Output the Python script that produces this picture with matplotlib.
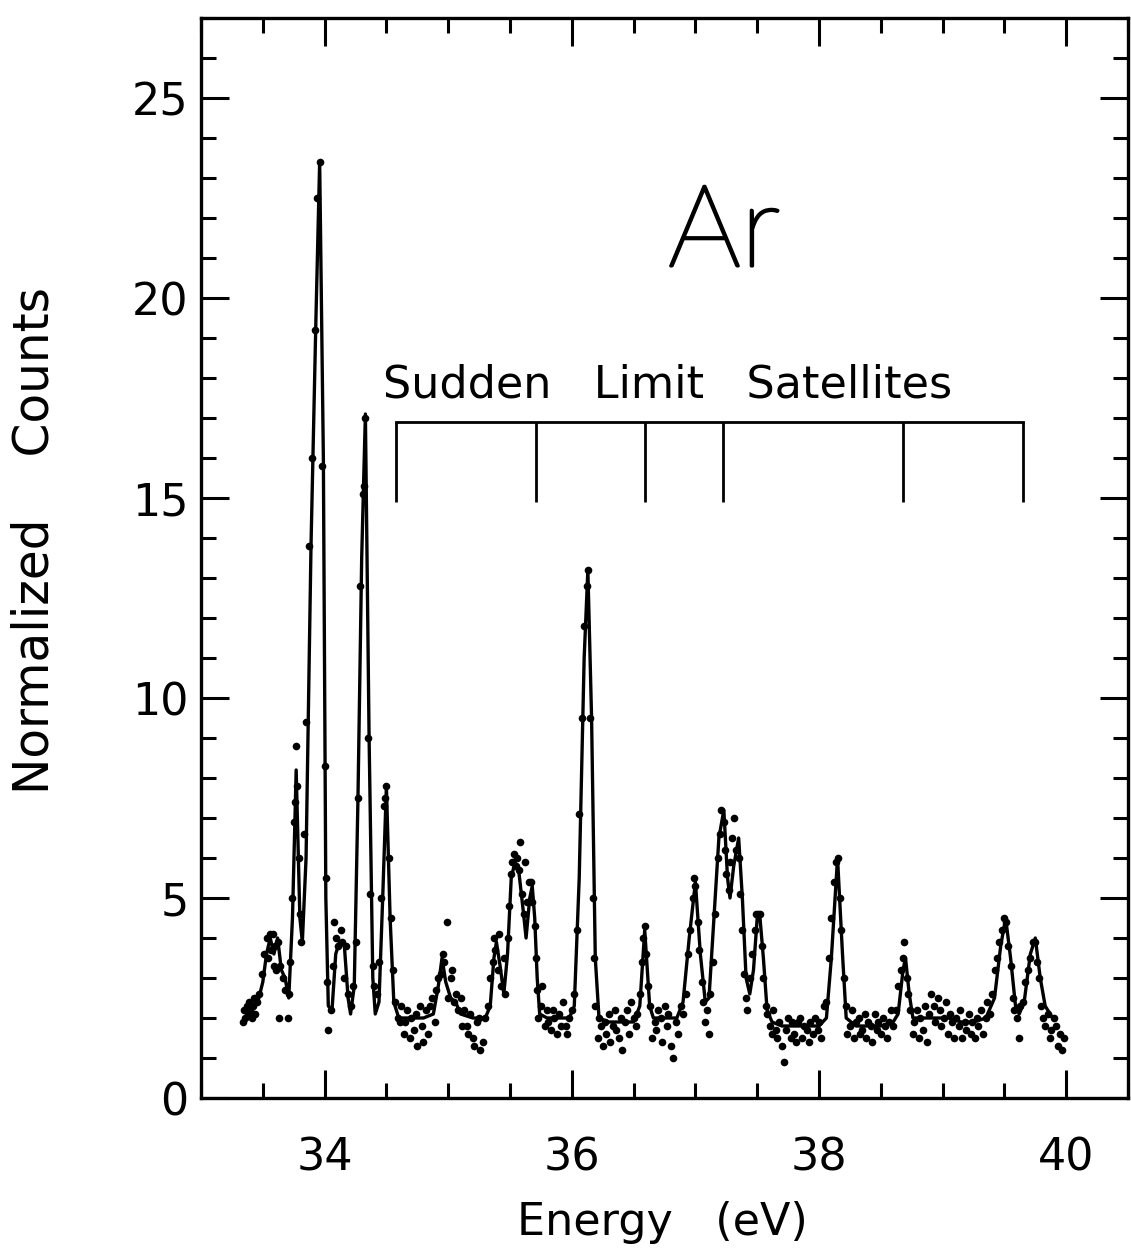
"""Ar photoelectron spectrum: normalized counts vs energy with sudden-limit satellite marks."""

import matplotlib

matplotlib.use("Agg")
import matplotlib.pyplot as plt  # noqa: E402
from matplotlib import patheffects  # noqa: E402
from matplotlib.ticker import MultipleLocator  # noqa: E402

# fitted curve (eV, counts)
fit_energy = [
    33.34, 33.40, 33.46, 33.50, 33.53, 33.56, 33.59, 33.62, 33.65, 33.68,
    33.71, 33.74, 33.77, 33.80, 33.82, 33.85, 33.89, 33.93, 33.96, 33.99,
    34.01, 34.03, 34.06, 34.09, 34.12, 34.16, 34.19, 34.21, 34.24, 34.27,
    34.30, 34.33, 34.36, 34.39, 34.41, 34.44, 34.47, 34.50, 34.53, 34.56,
    34.60, 34.70, 34.80, 34.88, 34.92, 34.95, 34.98, 35.02, 35.06, 35.10,
    35.20, 35.30, 35.34, 35.37, 35.39, 35.42, 35.45, 35.48, 35.51, 35.54,
    35.57, 35.61, 35.63, 35.66, 35.68, 35.70, 35.72, 35.74, 35.80, 35.90,
    35.98, 36.02, 36.06, 36.10, 36.13, 36.16, 36.19, 36.22, 36.30, 36.40,
    36.50, 36.55, 36.59, 36.63, 36.66, 36.75, 36.85, 36.90, 36.95, 37.00,
    37.04, 37.08, 37.11, 37.15, 37.19, 37.23, 37.26, 37.28, 37.31, 37.35,
    37.38, 37.41, 37.44, 37.47, 37.50, 37.52, 37.55, 37.58, 37.62, 37.70,
    37.80, 37.90, 38.00, 38.06, 38.10, 38.15, 38.19, 38.22, 38.30, 38.40,
    38.50, 38.60, 38.64, 38.68, 38.70, 38.73, 38.76, 38.85, 38.95, 39.05,
    39.15, 39.25, 39.35, 39.42, 39.47, 39.51, 39.55, 39.59, 39.62, 39.66,
    39.71, 39.75, 39.79, 39.83, 39.89,
]
fit_counts = [
    2.2, 2.3, 2.4, 2.9, 3.6, 4.0, 3.6, 4.0, 3.2, 3.0,
    2.5, 4.5, 8.2, 4.5, 3.9, 6.0, 13.8, 19.5, 23.4, 16.0,
    5.0, 2.3, 2.2, 3.6, 3.9, 3.8, 2.5, 2.1, 2.8, 7.5,
    13.5, 17.1, 9.0, 3.0, 2.1, 2.4, 5.0, 7.8, 4.5, 2.4,
    2.0, 2.0, 2.0, 2.1, 2.8, 3.5, 2.9, 2.5, 2.4, 2.1,
    2.0, 2.0, 2.3, 3.5, 3.9, 3.3, 2.6, 3.6, 5.5, 5.9,
    5.7, 4.6, 4.0, 5.0, 5.3, 4.5, 3.0, 2.1, 2.0, 2.0,
    2.0, 2.3, 5.5, 11.0, 13.2, 9.5, 3.5, 2.0, 1.9, 1.9,
    1.9, 2.3, 4.2, 2.3, 2.0, 2.0, 2.0, 2.4, 4.0, 5.4,
    3.6, 2.4, 2.5, 4.5, 6.5, 7.2, 5.5, 5.0, 5.8, 6.5,
    5.0, 3.0, 2.6, 3.2, 4.5, 4.6, 3.5, 2.2, 1.9, 1.8,
    1.8, 1.8, 1.8, 2.0, 3.5, 6.0, 3.6, 2.0, 1.8, 1.8,
    1.8, 1.9, 2.1, 3.2, 3.5, 2.6, 2.0, 2.0, 2.0, 2.0,
    1.9, 1.9, 2.0, 2.5, 3.8, 4.5, 3.5, 2.3, 2.1, 2.4,
    3.6, 4.0, 3.0, 2.3, 2.0,
]

# measured points
data_energy = [
    33.34, 33.35, 33.36, 33.37, 33.38, 33.39, 33.40, 33.41, 33.42, 33.43,
    33.44, 33.45, 33.47, 33.49, 33.51, 33.53, 33.54, 33.56, 33.57, 33.58,
    33.59, 33.60, 33.61, 33.62, 33.63, 33.64, 33.66, 33.68, 33.70, 33.71,
    33.72, 33.74, 33.75, 33.76, 33.77, 33.78, 33.79, 33.80, 33.81, 33.83,
    33.85, 33.87, 33.90, 33.92, 33.94, 33.96, 33.98, 34.00, 34.01, 34.02,
    34.03, 34.05, 34.07, 34.08, 34.09, 34.11, 34.13, 34.14, 34.16, 34.17,
    34.19, 34.21, 34.23, 34.25, 34.27, 34.29, 34.31, 34.32, 34.33, 34.35,
    34.37, 34.39, 34.40, 34.42, 34.44, 34.46, 34.48, 34.49, 34.50, 34.52,
    34.54, 34.55, 34.57, 34.59, 34.61, 34.62, 34.64, 34.65, 34.67, 34.69,
    34.70, 34.72, 34.74, 34.75, 34.77, 34.79, 34.80, 34.82, 34.84, 34.85,
    34.87, 34.89, 34.90, 34.92, 34.94, 34.96, 34.97, 34.99, 35.00, 35.02,
    35.03, 35.05, 35.06, 35.08, 35.10, 35.11, 35.13, 35.15, 35.16, 35.18,
    35.20, 35.21, 35.23, 35.25, 35.26, 35.28, 35.30, 35.32, 35.34, 35.36,
    35.37, 35.38, 35.40, 35.41, 35.43, 35.45, 35.46, 35.48, 35.49, 35.51,
    35.52, 35.53, 35.55, 35.56, 35.57, 35.58, 35.60, 35.61, 35.62, 35.64,
    35.65, 35.67, 35.68, 35.70, 35.71, 35.72, 35.73, 35.75, 35.76, 35.78,
    35.80, 35.81, 35.83, 35.85, 35.86, 35.88, 35.90, 35.91, 35.93, 35.95,
    35.96, 35.98, 36.00, 36.02, 36.04, 36.06, 36.08, 36.10, 36.12, 36.13,
    36.15, 36.17, 36.18, 36.19, 36.21, 36.22, 36.24, 36.25, 36.27, 36.28,
    36.30, 36.31, 36.33, 36.35, 36.36, 36.38, 36.40, 36.41, 36.43, 36.45,
    36.46, 36.48, 36.50, 36.52, 36.53, 36.55, 36.57, 36.58, 36.59, 36.60,
    36.62, 36.63, 36.65, 36.67, 36.68, 36.70, 36.72, 36.73, 36.75, 36.77,
    36.78, 36.80, 36.82, 36.84, 36.86, 36.88, 36.90, 36.92, 36.94, 36.96,
    36.98, 36.99, 37.00, 37.02, 37.03, 37.05, 37.06, 37.08, 37.09, 37.11,
    37.12, 37.14, 37.16, 37.18, 37.20, 37.21, 37.23, 37.24, 37.25, 37.27,
    37.28, 37.30, 37.31, 37.33, 37.35, 37.36, 37.38, 37.39, 37.41, 37.42,
    37.44, 37.46, 37.48, 37.49, 37.51, 37.52, 37.54, 37.55, 37.57, 37.58,
    37.60, 37.62, 37.63, 37.65, 37.66, 37.68, 37.70, 37.72, 37.73, 37.75,
    37.77, 37.78, 37.80, 37.81, 37.83, 37.85, 37.86, 37.88, 37.90, 37.92,
    37.93, 37.95, 37.97, 37.99, 38.00, 38.02, 38.04, 38.06, 38.08, 38.10,
    38.12, 38.14, 38.15, 38.17, 38.18, 38.20, 38.22, 38.23, 38.25, 38.27,
    38.28, 38.30, 38.32, 38.33, 38.35, 38.37, 38.38, 38.40, 38.42, 38.43,
    38.45, 38.47, 38.48, 38.50, 38.52, 38.53, 38.55, 38.57, 38.58, 38.60,
    38.62, 38.64, 38.66, 38.68, 38.69, 38.71, 38.72, 38.74, 38.76, 38.77,
    38.79, 38.81, 38.82, 38.84, 38.86, 38.87, 38.89, 38.91, 38.93, 38.94,
    38.96, 38.98, 38.99, 39.01, 39.03, 39.04, 39.06, 39.08, 39.09, 39.11,
    39.13, 39.14, 39.16, 39.18, 39.19, 39.21, 39.23, 39.24, 39.26, 39.28,
    39.29, 39.31, 39.33, 39.35, 39.36, 39.38, 39.40, 39.42, 39.44, 39.46,
    39.48, 39.50, 39.51, 39.53, 39.55, 39.57, 39.58, 39.60, 39.62, 39.63,
    39.65, 39.67, 39.69, 39.71, 39.73, 39.75, 39.76, 39.78, 39.80, 39.81,
    39.83, 39.85, 39.87, 39.88, 39.90, 39.92, 39.93, 39.95, 39.97, 39.98,
]
data_counts = [
    1.9, 2.2, 2.0, 2.3, 2.1, 2.4, 2.2, 2.0, 2.3, 2.5,
    2.1, 2.4, 2.6, 3.1, 3.6, 4.0, 3.5, 4.1, 3.7, 4.1,
    3.3, 3.8, 3.2, 3.9, 2.0, 3.3, 3.0, 2.7, 2.0, 2.6,
    3.4, 5.0, 6.9, 7.4, 8.8, 7.8, 6.0, 4.6, 3.9, 6.6,
    9.4, 13.8, 16.0, 19.2, 22.5, 23.4, 15.8, 8.3, 5.5, 2.9,
    1.7, 2.2, 3.3, 4.4, 4.0, 3.8, 4.2, 3.9, 3.0, 3.8,
    2.6, 2.3, 2.8, 3.9, 7.5, 12.8, 15.1, 15.3, 17.0, 9.0,
    5.1, 3.3, 2.8, 2.6, 3.4, 5.0, 7.3, 7.5, 7.8, 6.0,
    4.5, 3.2, 2.4, 2.0, 1.9, 2.3, 1.6, 1.9, 2.2, 1.5,
    2.0, 1.7, 2.1, 1.3, 2.3, 1.8, 1.4, 2.2, 1.6, 2.3,
    2.5, 1.9, 2.7, 3.0, 3.1, 3.6, 3.4, 4.4, 2.5, 3.0,
    3.2, 2.4, 2.6, 2.2, 2.5, 1.8, 2.2, 1.8, 1.6, 2.1,
    1.5, 1.3, 1.9, 2.0, 1.2, 1.4, 2.0, 2.3, 3.0, 3.4,
    4.0, 3.7, 3.2, 4.1, 2.8, 3.5, 2.6, 4.0, 4.8, 5.6,
    5.9, 6.1, 5.8, 6.0, 5.7, 6.4, 5.1, 4.6, 5.9, 4.9,
    5.4, 5.4, 4.9, 4.3, 3.5, 2.7, 2.0, 2.3, 2.8, 1.8,
    2.2, 1.9, 1.7, 2.2, 2.0, 1.6, 2.1, 1.8, 2.4, 1.8,
    1.6, 2.0, 2.2, 2.6, 4.2, 7.1, 9.5, 11.8, 12.8, 13.2,
    9.5, 5.0, 3.5, 2.3, 1.5, 2.0, 1.8, 1.3, 1.9, 1.6,
    2.1, 1.4, 1.8, 2.2, 1.7, 1.5, 2.0, 1.2, 1.9, 2.2,
    1.6, 2.4, 2.0, 1.8, 2.1, 2.6, 3.4, 4.0, 4.3, 3.6,
    2.8, 2.3, 1.5, 1.9, 1.7, 2.2, 2.0, 1.4, 2.3, 1.8,
    2.1, 1.3, 1.0, 1.9, 1.6, 2.3, 2.1, 2.6, 3.6, 4.2,
    5.0, 5.5, 5.3, 4.4, 3.7, 2.9, 2.4, 1.9, 2.2, 1.6,
    2.6, 3.4, 4.6, 6.0, 6.6, 7.2, 6.9, 6.2, 5.6, 5.2,
    5.9, 6.5, 7.0, 6.2, 6.0, 5.1, 4.2, 3.1, 2.5, 2.2,
    3.0, 3.6, 4.2, 4.6, 4.6, 4.6, 3.8, 3.0, 2.3, 2.1,
    1.8, 1.6, 2.2, 1.7, 1.5, 1.9, 1.3, 0.9, 1.7, 2.0,
    1.5, 1.9, 1.6, 1.4, 1.9, 2.0, 1.5, 1.8, 1.7, 1.4,
    1.9, 1.6, 2.0, 1.7, 1.9, 1.5, 2.3, 2.4, 3.5, 4.5,
    5.4, 5.9, 6.0, 5.0, 4.2, 3.0, 2.3, 1.6, 1.8, 2.2,
    1.5, 1.9, 2.0, 1.6, 1.7, 2.1, 1.5, 1.9, 1.8, 1.4,
    2.1, 1.7, 1.9, 1.6, 2.0, 1.8, 1.5, 1.9, 2.2, 1.8,
    2.2, 2.8, 3.2, 3.5, 3.9, 3.0, 2.6, 2.2, 1.6, 1.9,
    2.2, 1.5, 2.0, 1.7, 2.3, 1.4, 2.1, 2.6, 2.3, 1.9,
    2.5, 2.2, 1.8, 2.0, 2.4, 1.6, 2.1, 1.9, 1.5, 2.0,
    1.8, 2.2, 1.5, 1.9, 1.7, 2.1, 1.6, 1.9, 1.5, 2.0,
    1.8, 2.2, 1.6, 2.0, 2.4, 2.1, 2.6, 3.2, 3.5, 3.9,
    4.2, 4.5, 4.4, 3.8, 3.3, 2.5, 2.2, 2.0, 1.5, 2.3,
    2.4, 2.9, 3.2, 3.5, 3.9, 3.9, 3.4, 3.0, 2.3, 2.0,
    1.8, 2.1, 1.5, 1.7, 2.0, 1.8, 1.3, 1.6, 1.2, 1.5,
]

# sudden-limit satellite markers (eV)
satellite_energy = [34.58, 35.71, 36.59, 37.22, 38.68, 39.65]
bracket_top = 16.9
bracket_bottom = 14.9

FONT = "DejaVu Sans"
SIZE = 32

fig = plt.figure(figsize=(11.31, 12.58), dpi=100)
W, H = 1131, 1258
ax = fig.add_axes([201 / W, 1 - 1098 / H, (1128 - 201) / W, (1098 - 18) / H])

ax.plot(fit_energy, fit_counts, color="black", lw=2.4, zorder=2)
ax.plot(data_energy, data_counts, "o", color="black", ms=5.5, mew=0, zorder=3)

# bracket for the satellites
ax.plot([satellite_energy[0], satellite_energy[-1]], [bracket_top, bracket_top],
        color="black", lw=2)
ax.vlines(satellite_energy, bracket_bottom, bracket_top, color="black", lw=2)

ax.text(34.47, 17.5, "Sudden   Limit   Satellites", fontsize=SIZE, family=FONT,
        ha="left", va="baseline")
# thin-stroked label, thickened a little with an outline
ax.text(36.78, 20.8, "Ar", fontsize=82, family=["Lato", "DejaVu Sans"],
        fontweight="light", ha="left", va="baseline", color="black",
        path_effects=[patheffects.withStroke(linewidth=2.2, foreground="black")])

ax.set_xlim(33.0, 40.5)
ax.set_ylim(0, 27)
ax.set_xticks([34, 36, 38, 40])
ax.xaxis.set_minor_locator(MultipleLocator(0.5))
ax.set_yticks([0, 5, 10, 15, 20, 25])
ax.yaxis.set_minor_locator(MultipleLocator(1))
ax.tick_params(which="both", direction="in", top=True, right=True, width=2.2)
ax.tick_params(which="major", length=20)
ax.tick_params(which="minor", length=11)
ax.tick_params(axis="x", which="major", pad=28)
ax.tick_params(axis="y", which="major", pad=9)
for lab in ax.get_xticklabels() + ax.get_yticklabels():
    lab.set_family(FONT)
    lab.set_fontsize(SIZE)
for sp in ax.spines.values():
    sp.set_linewidth(2.4)

fig.text(35 / W, 1 - 540 / H, "Normalized    Counts", rotation=90, fontsize=35,
         family=FONT, ha="center", va="center")
fig.text(662 / W, 1 - 1222 / H, "Energy   (eV)", fontsize=SIZE, family=FONT,
         ha="center", va="center")

fig.savefig("out.png", dpi=100)
